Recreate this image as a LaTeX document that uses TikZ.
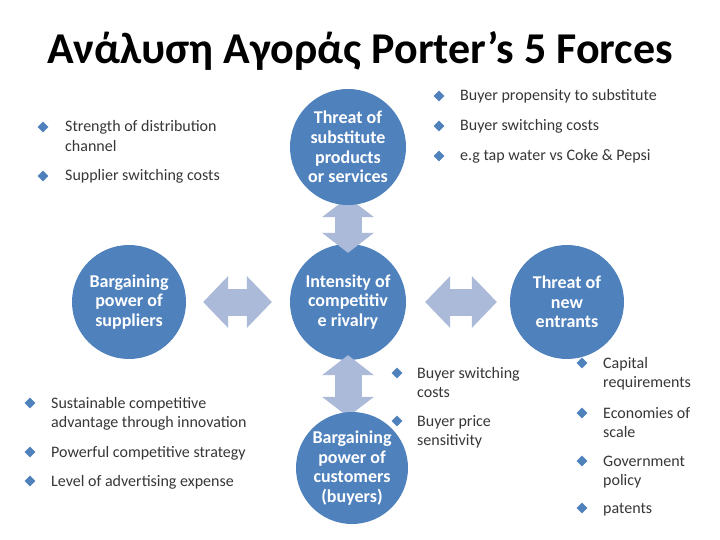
\documentclass[tikz,border=0pt]{standalone}
\usepackage{fontspec}
\setmainfont{Carlito}
\usetikzlibrary{arrows.meta,shapes.geometric}
\definecolor{circblue}{RGB}{79,129,189}
\definecolor{arrowblue}{RGB}{170,186,216}
\definecolor{txtgrey}{RGB}{55,55,55}
\pgfdeclarelayer{front}
\pgfsetlayers{main,front}

\begin{document}
\begin{tikzpicture}[x=1pt,y=-1pt,
  force/.style={circle,fill=circblue,text=white,inner sep=0pt,minimum size=116pt,align=center,font=\bfseries\fontsize{18}{19.7}\selectfont},
  bul/.style={diamond,fill=circblue,inner sep=0pt,minimum size=11pt},
  btxt/.style={anchor=base west,align=left,inner sep=0pt,text=txtgrey,font=\fontsize{16}{19.5}\selectfont},
  hhead/.tip={Triangle[width=52pt,length=25pt,line width=0pt]},
  vhead/.tip={Triangle[width=52pt,length=20pt,line width=0pt]},
  fat/.style={draw=arrowblue,line width=27pt}]
\useasboundingbox[fill=white] (0,0) rectangle (720,540);

\node[anchor=base,font=\bfseries\fontsize{44}{50}\selectfont] (title) at (360,64) {Ανάλυση Αγοράς Porter’s 5 Forces};

% the five forces
\node[force] (riv) at (348,302) {Intensity of\\competitiv\\e rivalry};
\node[force,minimum size=114pt] (sup) at (129,302) {Bargaining\\power of\\suppliers};
\node[force,minimum size=114pt] (ent) at (567,302) {Threat of\\new\\entrants};
\begin{pgfonlayer}{front}
\node[force] (sub) at (348,147) {Threat of\\substitute\\products\\or services};
\node[force,minimum size=112pt] (buy) at (352,468) {Bargaining\\power of\\customers\\(buyers)};
\end{pgfonlayer}

% arrows between forces
\draw[fat,hhead-hhead,shorten <=17pt,shorten >=18pt] (sup.east) -- (riv.west);
\draw[fat,hhead-hhead,shorten <=19pt,shorten >=13pt] (riv.east) -- (ent.west);
\draw[fat,vhead-vhead,shorten <=-8pt,shorten >=-9pt] (sub.south) -- (riv.north);
\draw[fat,vhead-vhead,shorten <=-5pt,shorten >=-5pt] (riv.south) -- (riv.south |- buy.north);

% suppliers (base = last line)
\node[bul] (supd1) at (43,127) {};
\node[btxt] (supt1) at (65,151.5) {Strength of distribution\\channel};
\node[bul] (supd2) at (43,176) {};
\node[btxt] (supt2) at (65,181) {Supplier switching costs};

% substitutes
\node[bul] (subd1) at (439,96) {};
\node[btxt] (subt1) at (460,101) {Buyer propensity to substitute};
\node[bul] (subd2) at (439,126) {};
\node[btxt] (subt2) at (460,131) {Buyer switching costs};
\node[bul] (subd3) at (439,156) {};
\node[btxt] (subt3) at (460,161) {e.g tap water vs Coke \& Pepsi};

% rivalry
\node[bul] (rivd1) at (30,403) {};
\node[btxt] (rivt1) at (51,427.5) {Sustainable competitive\\advantage through innovation};
\node[bul] (rivd2) at (30,452) {};
\node[btxt] (rivt2) at (51,457) {Powerful competitive strategy};
\node[bul] (rivd3) at (30,481) {};
\node[btxt] (rivt3) at (51,486) {Level of advertising expense};

% buyers
\node[bul] (buyd1) at (397,373) {};
\node[btxt] (buyt1) at (417,397.5) {Buyer switching\\costs};
\node[bul] (buyd2) at (397,421) {};
\node[btxt] (buyt2) at (417,445.5) {Buyer price\\sensitivity};

% new entrants
\node[bul] (entd1) at (582,363) {};
\node[btxt] (entt1) at (603,387.5) {Capital\\requirements};
\node[bul] (entd2) at (582,413) {};
\node[btxt] (entt2) at (603,437.5) {Economies of\\scale};
\node[bul] (entd3) at (582,461) {};
\node[btxt] (entt3) at (603,485.5) {Government\\policy};
\node[bul] (entd4) at (582,508) {};
\node[btxt] (entt4) at (603,513) {patents};
\end{tikzpicture}
\end{document}
